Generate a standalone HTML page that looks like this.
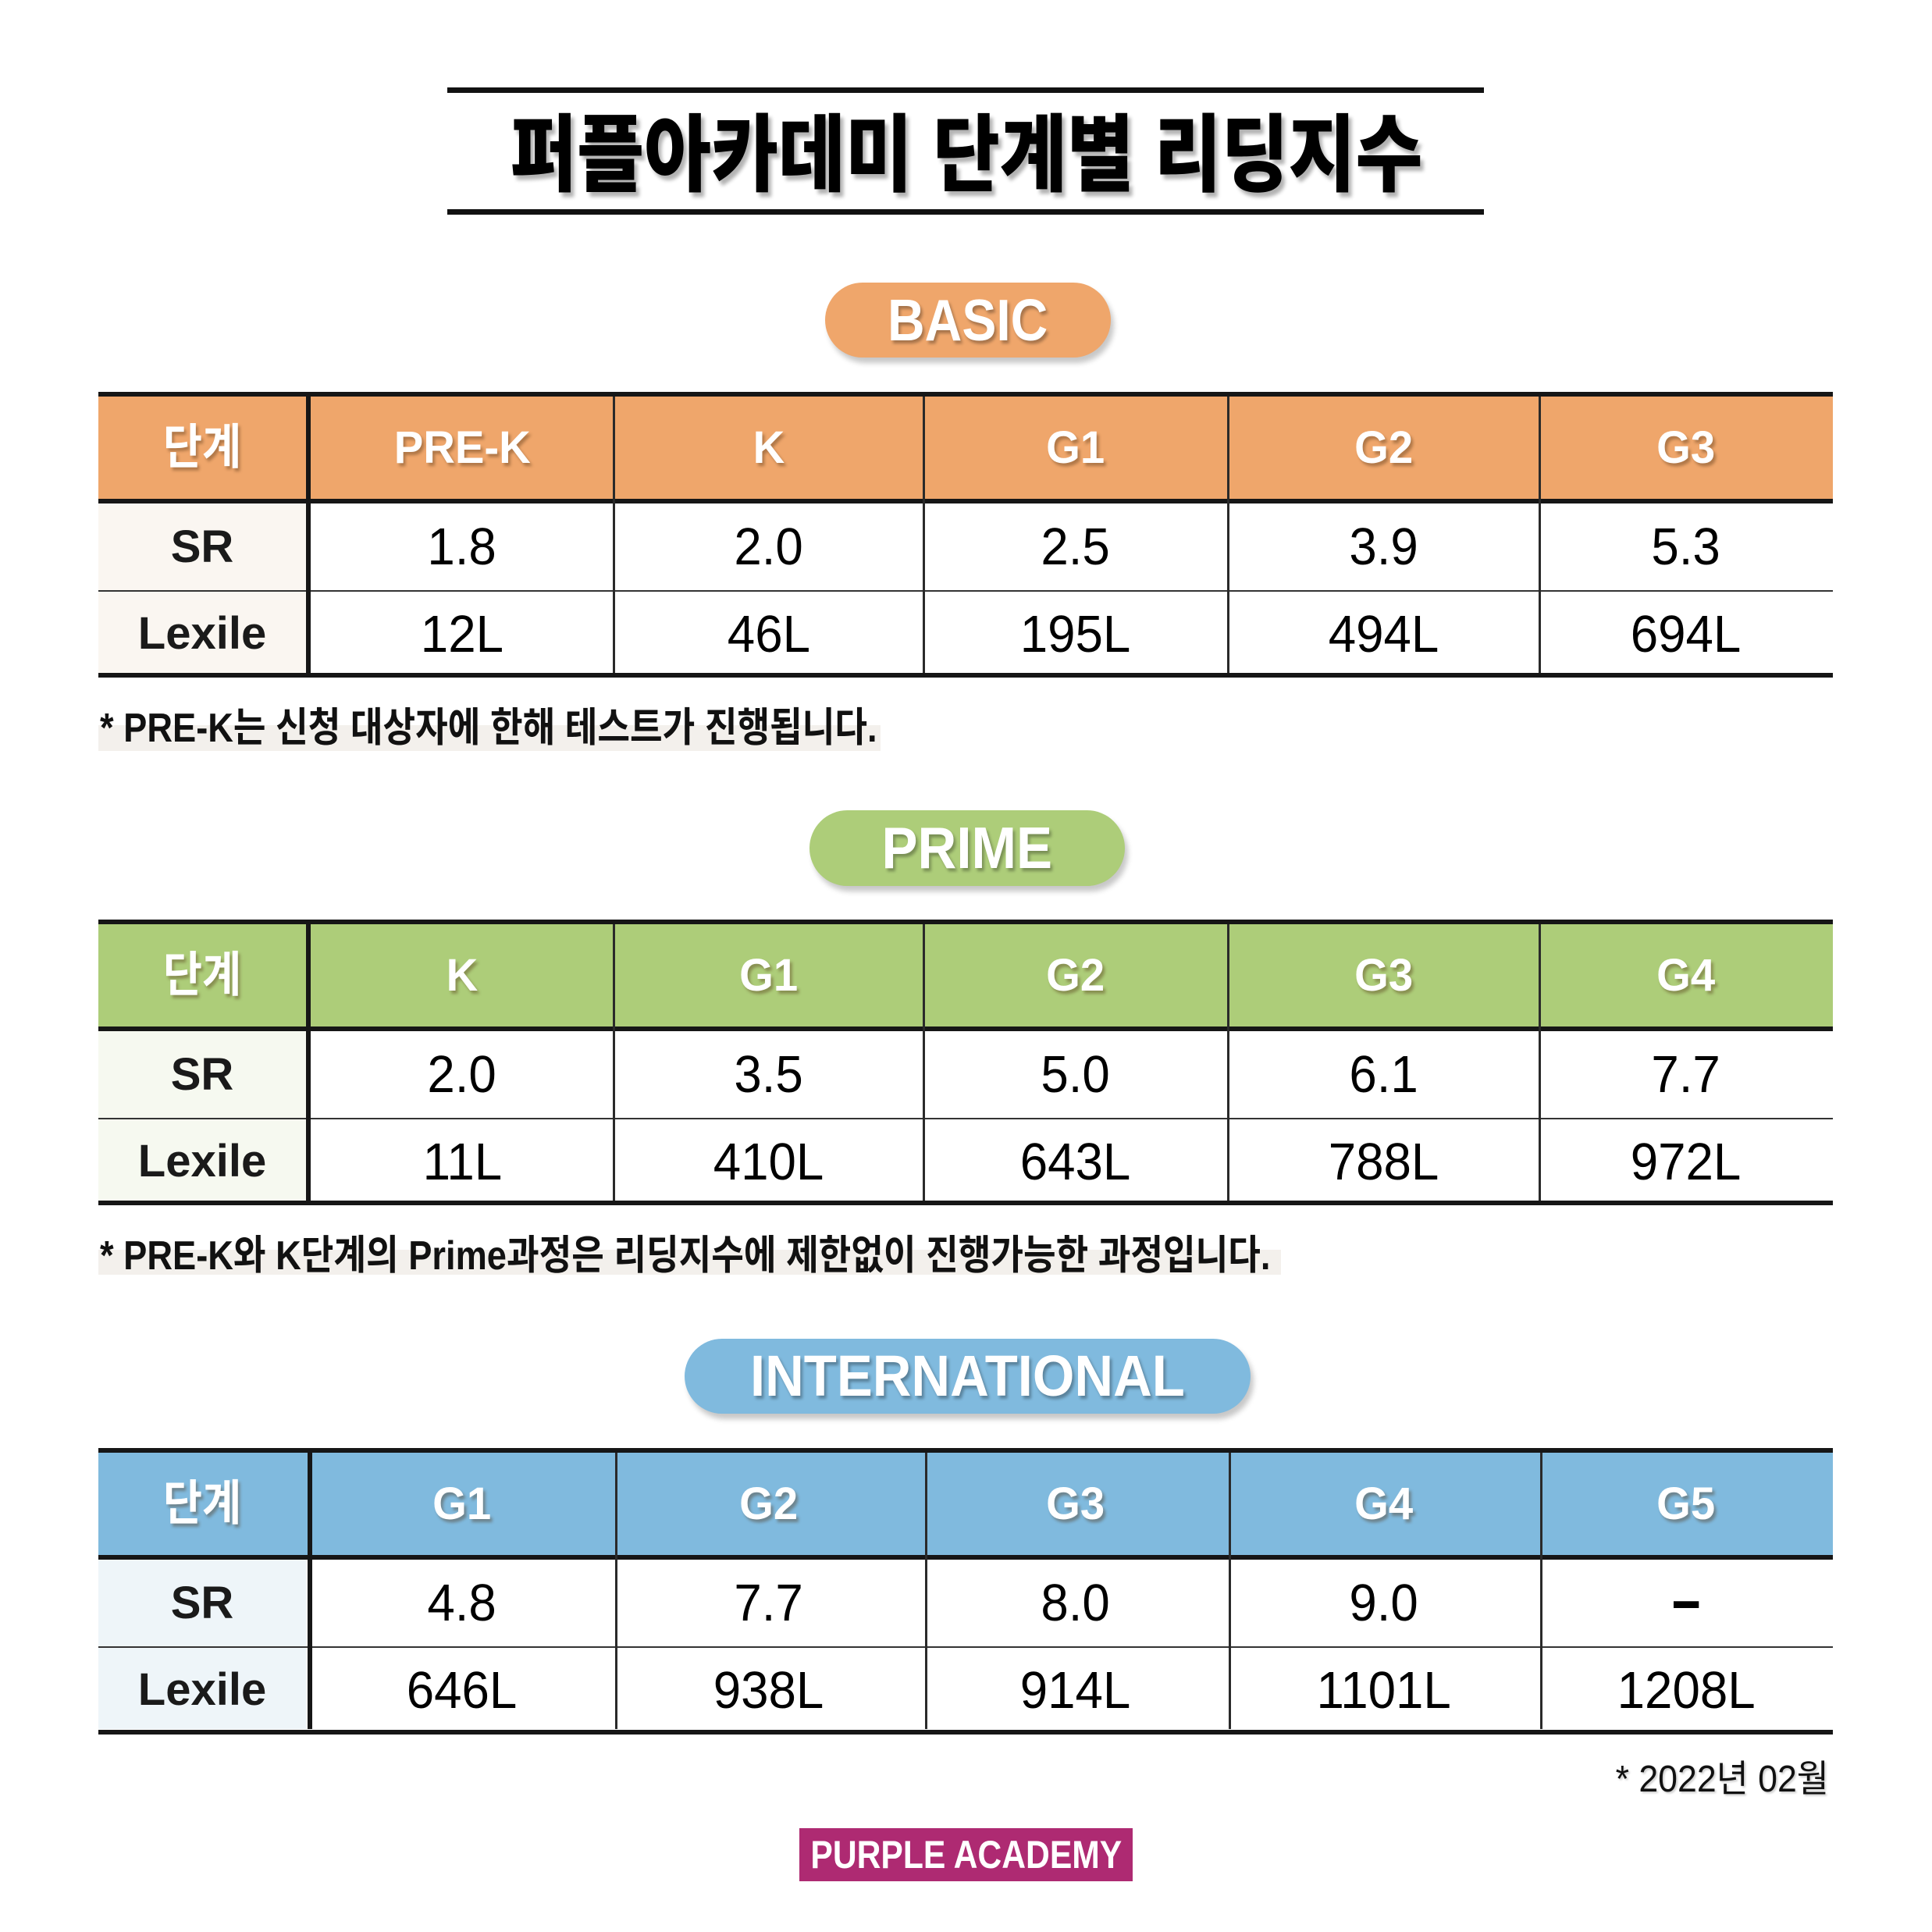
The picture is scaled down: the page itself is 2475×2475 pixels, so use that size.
<!DOCTYPE html>
<html lang="ko"><head><meta charset="utf-8">
<style>
*{box-sizing:border-box;margin:0;padding:0}
html,body{width:2475px;height:2475px;background:#fff;overflow:hidden}
body{position:relative;font-family:"Liberation Sans","Noto Sans CJK KR",sans-serif}
.f{position:absolute;display:flex;align-items:center;justify-content:center;line-height:1;white-space:nowrap}
.f span{display:inline-block}
.rule{position:absolute;left:573px;width:1328px;height:7px;background:#111}
.title{left:0;width:2475px;top:144px;height:110px;font-size:108px;font-weight:900;color:#000;text-shadow:5px 6px 5px rgba(0,0,0,.3)}
.title span{transform:scaleX(.865)}
.pill{border-radius:49px;box-shadow:4px 7px 7px rgba(0,0,0,.22);color:#fff;font-weight:700;font-size:75px;text-shadow:3px 4px 4px rgba(0,0,0,.3)}
.tbl{position:absolute;left:126px;width:2222px;height:366px}
.tbl div{position:absolute}
.tbl .k{left:0;width:2222px;height:6px;background:#161616}
.tbl .hb{left:0;top:6px;width:2222px;height:131px}
.tbl .lb{left:0;top:143px;width:266px;height:217px}
.tbl .th{left:0;top:254px;width:2222px;height:2px;background:#333}
.tbl .vk{left:266px;top:6px;width:6px;height:354px;background:#161616}
.tbl .vt{top:6px;width:3px;height:354px;background:#2a2a2a}
.tbl .f{position:absolute}
.h{top:6px;height:131px;color:#fff;font-weight:700;font-size:58px;text-shadow:3px 4px 4px rgba(80,50,20,.4)}
.h span{transform:scaleX(.97)}
.h.kr{font-size:62px}
.h.kr span{transform:scaleX(.88)}
.s{top:143px;height:111px}
.l{top:258px;height:104px}
.lab{font-weight:700;font-size:58px;color:#1a1a1a}
.d{font-size:67px;color:#000}
.d span{transform:scaleX(.95)}
.d span.dash{transform:scaleX(1.9) scaleY(1.1);font-weight:700;margin-top:-8px}
.c0{left:0;width:266px}
.c1{left:272px;width:388px}
.c2{left:660px;width:397px}
.c3{left:1057px;width:390px}
.c4{left:1447px;width:399px}
.c5{left:1846px;width:376px}
.hl{position:absolute;background:#F3F0EC}
.note{position:absolute;left:128px;font-size:52px;font-weight:700;color:#111;line-height:1;white-space:nowrap;transform:scaleX(.87);transform-origin:left center}
.date{position:absolute;right:132px;top:2256px;font-size:48px;color:#111;line-height:1;white-space:nowrap;transform:scaleX(.93);transform-origin:right center;text-shadow:2px 2px 3px rgba(0,0,0,.2)}
.brand{left:1024px;top:2342px;width:427px;height:68px;background:#AE2A72;color:#fff;font-weight:700;font-size:50px}
.brand span{transform:scaleX(.853)}
</style></head>
<body>

<div class="rule" style="top:112px"></div>
<div class="f title"><span>퍼플아카데미 단계별 리딩지수</span></div>
<div class="rule" style="top:268px"></div>

<!-- BASIC -->
<div class="f pill" style="left:1057px;top:362px;width:366px;height:96px;background:#EFA66B"><span style="transform:scaleX(.88)">BASIC</span></div>

<div class="tbl" style="top:502px">
  <div class="hb" style="background:#EFA66B"></div>
  <div class="lb" style="background:#FAF6F1"></div>
  <div class="k" style="top:0"></div>
  <div class="k" style="top:137px"></div>
  <div class="th"></div>
  <div class="k" style="top:360px"></div>
  <div class="vk"></div>
  <div class="vt" style="left:659px"></div>
  <div class="vt" style="left:1056px"></div>
  <div class="vt" style="left:1446px"></div>
  <div class="vt" style="left:1845px"></div>

  <div class="f h kr c0"><span>단계</span></div>
  <div class="f h c1"><span>PRE-K</span></div>
  <div class="f h c2"><span>K</span></div>
  <div class="f h c3"><span>G1</span></div>
  <div class="f h c4"><span>G2</span></div>
  <div class="f h c5"><span>G3</span></div>

  <div class="f s lab c0"><span>SR</span></div>
  <div class="f s d c1"><span>1.8</span></div>
  <div class="f s d c2"><span>2.0</span></div>
  <div class="f s d c3"><span>2.5</span></div>
  <div class="f s d c4"><span>3.9</span></div>
  <div class="f s d c5"><span>5.3</span></div>

  <div class="f l lab c0"><span>Lexile</span></div>
  <div class="f l d c1"><span>12L</span></div>
  <div class="f l d c2"><span>46L</span></div>
  <div class="f l d c3"><span>195L</span></div>
  <div class="f l d c4"><span>494L</span></div>
  <div class="f l d c5"><span>694L</span></div>
</div>

<div class="hl" style="left:126px;top:929px;width:1002px;height:33px"></div>
<div class="note" style="top:907px">* PRE-K는 신청 대상자에 한해 테스트가 진행됩니다.</div>

<!-- PRIME -->
<div class="f pill" style="left:1037px;top:1038px;width:404px;height:97px;background:#ADCD79"><span style="transform:scaleX(.92)">PRIME</span></div>

<div class="tbl" style="top:1178px">
  <div class="hb" style="background:#ADCD79"></div>
  <div class="lb" style="background:#F6F9F0"></div>
  <div class="k" style="top:0"></div>
  <div class="k" style="top:137px"></div>
  <div class="th"></div>
  <div class="k" style="top:360px"></div>
  <div class="vk"></div>
  <div class="vt" style="left:659px"></div>
  <div class="vt" style="left:1056px"></div>
  <div class="vt" style="left:1446px"></div>
  <div class="vt" style="left:1845px"></div>

  <div class="f h kr c0"><span>단계</span></div>
  <div class="f h c1"><span>K</span></div>
  <div class="f h c2"><span>G1</span></div>
  <div class="f h c3"><span>G2</span></div>
  <div class="f h c4"><span>G3</span></div>
  <div class="f h c5"><span>G4</span></div>

  <div class="f s lab c0"><span>SR</span></div>
  <div class="f s d c1"><span>2.0</span></div>
  <div class="f s d c2"><span>3.5</span></div>
  <div class="f s d c3"><span>5.0</span></div>
  <div class="f s d c4"><span>6.1</span></div>
  <div class="f s d c5"><span>7.7</span></div>

  <div class="f l lab c0"><span>Lexile</span></div>
  <div class="f l d c1"><span>11L</span></div>
  <div class="f l d c2"><span>410L</span></div>
  <div class="f l d c3"><span>643L</span></div>
  <div class="f l d c4"><span>788L</span></div>
  <div class="f l d c5"><span>972L</span></div>
</div>

<div class="hl" style="left:126px;top:1601px;width:1515px;height:32px"></div>
<div class="note" style="top:1583px">* PRE-K와 K단계의 Prime과정은 리딩지수에 제한없이 진행가능한 과정입니다.</div>

<!-- INTERNATIONAL -->
<div class="f pill" style="left:877px;top:1715px;width:725px;height:96px;background:#80BADE"><span style="transform:scaleX(.93);font-size:74px">INTERNATIONAL</span></div>

<div class="tbl" style="top:1855px">
  <div class="hb" style="background:#80BADE"></div>
  <div class="lb" style="background:#EEF5F9"></div>
  <div class="k" style="top:0"></div>
  <div class="k" style="top:137px"></div>
  <div class="th"></div>
  <div class="k" style="top:361px"></div>
  <div class="vk" style="left:268px"></div>
  <div class="vt" style="left:662px"></div>
  <div class="vt" style="left:1059px"></div>
  <div class="vt" style="left:1448px"></div>
  <div class="vt" style="left:1847px"></div>

  <div class="f h kr c0"><span>단계</span></div>
  <div class="f h c1"><span>G1</span></div>
  <div class="f h c2"><span>G2</span></div>
  <div class="f h c3"><span>G3</span></div>
  <div class="f h c4"><span>G4</span></div>
  <div class="f h c5"><span>G5</span></div>

  <div class="f s lab c0"><span>SR</span></div>
  <div class="f s d c1"><span>4.8</span></div>
  <div class="f s d c2"><span>7.7</span></div>
  <div class="f s d c3"><span>8.0</span></div>
  <div class="f s d c4"><span>9.0</span></div>
  <div class="f s d c5"><span class="dash">-</span></div>

  <div class="f l lab c0"><span>Lexile</span></div>
  <div class="f l d c1"><span>646L</span></div>
  <div class="f l d c2"><span>938L</span></div>
  <div class="f l d c3"><span>914L</span></div>
  <div class="f l d c4"><span>1101L</span></div>
  <div class="f l d c5"><span>1208L</span></div>
</div>

<div class="date">* 2022년 02월</div>

<div class="f brand"><span>PURPLE ACADEMY</span></div>

</body></html>
